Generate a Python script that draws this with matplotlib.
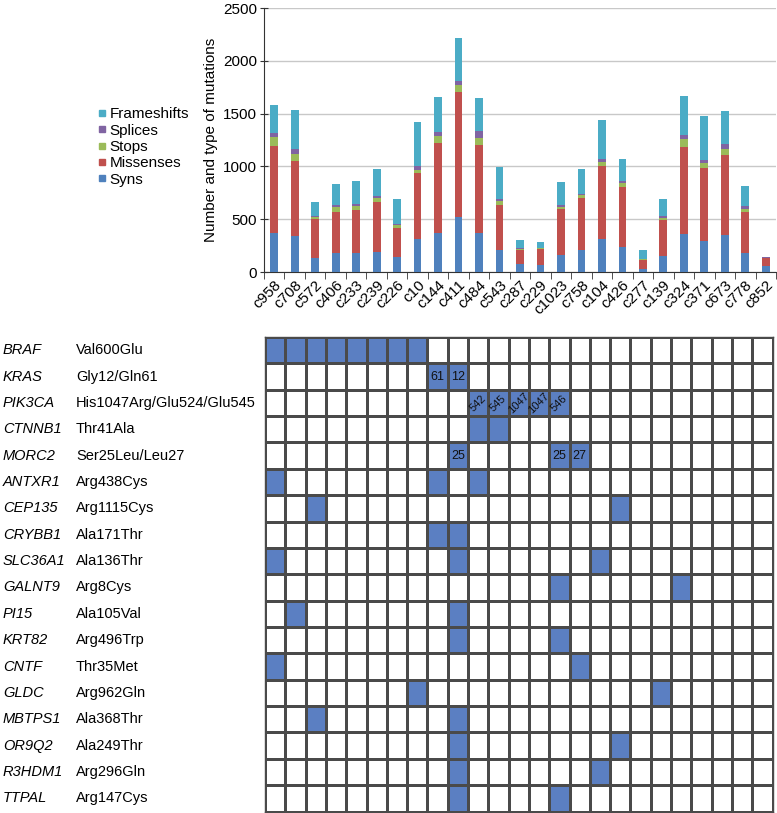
import matplotlib
matplotlib.use("Agg")
import matplotlib.pyplot as plt
import numpy as np
from matplotlib.lines import Line2D
from matplotlib.colors import ListedColormap

plt.rcParams['font.family'] = ['Liberation Sans', 'DejaVu Sans']

samples = ["c958", "c708", "c572", "c406", "c233", "c239", "c226", "c10", "c144",
           "c411", "c484", "c543", "c287", "c229", "c1023", "c758", "c104", "c426",
           "c277", "c139", "c324", "c371", "c673", "c778", "c852"]

syns        = [370, 339, 132, 176, 176, 188, 144, 308, 374, 521, 367, 210, 75, 69, 163, 210, 317, 236, 28, 154, 361, 295, 355, 176, 57]
missenses   = [823, 713, 374, 396, 408, 478, 277, 634, 845, 1181, 839, 424, 132, 148, 434, 490, 691, 568, 88, 336, 826, 688, 751, 396, 75]
stops       = [82, 66, 15, 44, 44, 34, 25, 25, 69, 69, 66, 41, 10, 9, 19, 25, 38, 38, 3, 25, 69, 47, 56, 28, 3]
splices     = [44, 47, 10, 15, 19, 16, 13, 38, 37, 41, 60, 19, 9, 6, 18, 16, 22, 22, 7, 16, 38, 28, 47, 22, 3]
frameshifts = [261, 368, 132, 204, 214, 258, 232, 411, 333, 402, 320, 305, 76, 54, 217, 233, 367, 204, 84, 160, 371, 421, 311, 188, 6]

genes = ["BRAF", "KRAS", "PIK3CA", "CTNNB1", "MORC2", "ANTXR1", "CEP135", "CRYBB1",
         "SLC36A1", "GALNT9", "PI15", "KRT82", "CNTF", "GLDC", "MBTPS1", "OR9Q2",
         "R3HDM1", "TTPAL"]
changes = ["Val600Glu", "Gly12/Gln61", "His1047Arg/Glu524/Glu545", "Thr41Ala",
           "Ser25Leu/Leu27", "Arg438Cys", "Arg1115Cys", "Ala171Thr", "Ala136Thr",
           "Arg8Cys", "Ala105Val", "Arg496Trp", "Thr35Met", "Arg962Gln", "Ala368Thr",
           "Ala249Thr", "Arg296Gln", "Arg147Cys"]
mutated_cols = [
    [0, 1, 2, 3, 4, 5, 6, 7],
    [8, 9],
    [10, 11, 12, 13, 14],
    [10, 11],
    [9, 14, 15],
    [0, 8, 10],
    [2, 17],
    [8, 9],
    [0, 9, 16],
    [14, 20],
    [1, 9],
    [9, 14],
    [0, 15],
    [7, 19],
    [2, 9],
    [9, 17],
    [9, 16],
    [9, 14],
]
cell_labels = [
    (1, 8, "61"), (1, 9, "12"),
    (2, 10, "542"), (2, 11, "545"), (2, 12, "1047"), (2, 13, "1047"), (2, 14, "546"),
    (4, 9, "25"), (4, 14, "25"), (4, 15, "27"),
]

c_syn = "#4F81BD"
c_mis = "#C0504D"
c_stop = "#9BBB59"
c_spl = "#8064A2"
c_fs = "#4BACC6"
c_cell = "#5B7FC2"

fig = plt.figure(figsize=(7.77, 8.13), dpi=100)

# ---- bar chart ----
ax = fig.add_axes([264/777, 1 - 272/813, (776-264)/777, (272-8)/813])
x = np.arange(len(samples))
series = [(syns, c_syn, "Syns"), (missenses, c_mis, "Missenses"), (stops, c_stop, "Stops"),
          (splices, c_spl, "Splices"), (frameshifts, c_fs, "Frameshifts")]
bottom = np.zeros(len(samples))
for vals, col, lab in series:
    v = np.array(vals, dtype=float)
    ax.bar(x, v, width=0.38, bottom=bottom, color=col, label=lab, zorder=3)
    bottom += v
ax.set_xlim(-0.5, len(samples) - 0.5)
ax.set_ylim(0, 2500)
ax.set_yticks([0, 500, 1000, 1500, 2000, 2500])
ax.yaxis.grid(True, color="#c8c8c8", linewidth=1.0, zorder=0)
ax.set_axisbelow(True)
for s in ["top", "right"]:
    ax.spines[s].set_visible(False)
ax.spines["left"].set_color("#333333")
ax.spines["bottom"].set_color("#333333")
ax.tick_params(axis="y", direction="inout", length=6, labelsize=11, color="#333333", pad=2)
ax.set_xticks(x)
ax.set_xticklabels(samples, rotation=45, ha="right", rotation_mode="anchor", fontsize=11)
ax.tick_params(axis="x", length=0, pad=4)
ax.set_xticks(np.arange(-0.5, len(samples) + 0.5, 1), minor=True)
ax.tick_params(axis="x", which="minor", length=5, direction="out", color="#333333")
ax.set_ylabel("Number and type of mutations", fontsize=11, labelpad=4)

handles = [Line2D([], [], marker="s", linestyle="none", color=c, markersize=4)
           for _, c, _ in series[::-1]]
labels = [l for _, _, l in series[::-1]]
fig.legend(handles, labels, loc="center left", bbox_to_anchor=(91/777, 1 - 147/813),
           frameon=False, fontsize=11, handlelength=0.6, handletextpad=0.2,
           labelspacing=0.15, borderaxespad=0)

# ---- mutation grid ----
gx0, gx1, gy0, gy1 = 265, 772.5, 337, 811.5
gax = fig.add_axes([gx0/777, 1 - gy1/813, (gx1-gx0)/777, (gy1-gy0)/813])
n_grid_cols = len(samples)
mat = np.zeros((len(genes), n_grid_cols))
for r, cols in enumerate(mutated_cols):
    for c in cols:
        mat[r, c] = 1
gax.pcolormesh(np.arange(n_grid_cols + 1), np.arange(len(genes) + 1), mat,
               cmap=ListedColormap(["white", c_cell]), vmin=0, vmax=1,
               edgecolors="#4a4a4a", linewidth=1.0)
gax.set_xlim(0, n_grid_cols)
gax.set_ylim(len(genes), 0)
gax.set_xticks([])
gax.set_yticks([])
for s in gax.spines.values():
    s.set_color("#4a4a4a")
    s.set_linewidth(1.0)
for r, c, t in cell_labels:
    rot = 45 if r == 2 else 0
    gax.text(c + 0.5, r + 0.5, t, ha="center", va="center", fontsize=8 if rot else 9,
             rotation=rot, color="#111111")

for r, (g, ch) in enumerate(zip(genes, changes)):
    ypix = gy0 + (r + 0.5) * (gy1 - gy0) / len(genes)
    fig.text(3/777, 1 - ypix/813, g, style="italic", fontsize=10.5, va="center", ha="left")
    fig.text(76/777, 1 - ypix/813, ch, fontsize=10.5, va="center", ha="left")

fig.savefig("out.png", dpi=100)
